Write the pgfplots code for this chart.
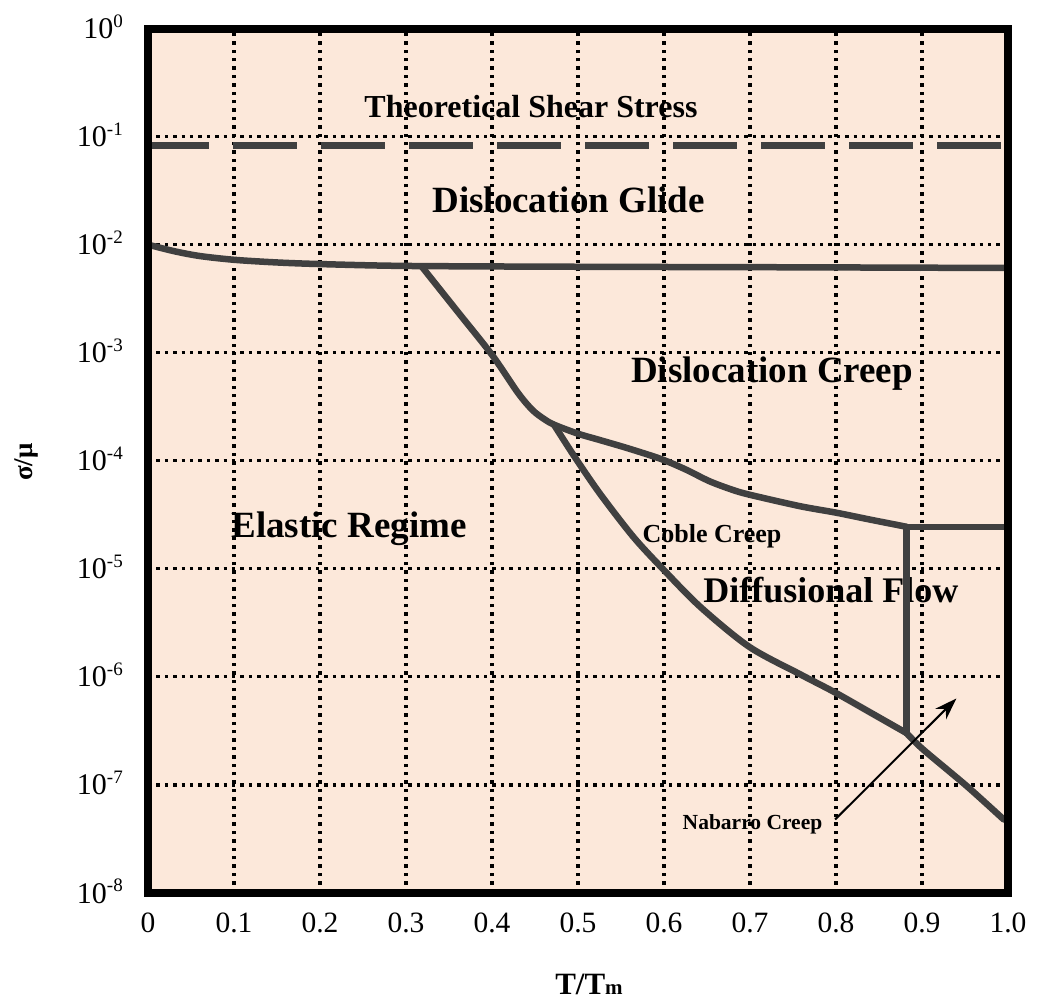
\documentclass[border=0pt]{standalone}
\usepackage{fontspec}
\setmainfont{Liberation Serif}
\usepackage{pgfplots}
\pgfplotsset{compat=1.18}
\usetikzlibrary{arrows.meta}
\definecolor{peach}{RGB}{252,232,218}
\definecolor{curvegray}{RGB}{64,64,64}
\newcommand{\tl}[1]{10\raisebox{11.5pt}{\fontsize{19}{19}\selectfont #1}}
\tikzset{gridl/.style={black, line width=3.2pt, dash pattern=on 3.4pt off 5pt}}
\begin{document}
\begin{tikzpicture}
\begin{axis}[
  scale only axis, width=860pt, height=864.5pt,
  xmin=0, xmax=1, ymode=log, ymin=1e-8, ymax=1,
  xtick={0,0.1,0.2,0.3,0.4,0.5,0.6,0.7,0.8,0.9,1},
  xticklabels={0,0.1,0.2,0.3,0.4,0.5,0.6,0.7,0.8,0.9,1.0},
  ytick={1e-8,1e-7,1e-6,1e-5,1e-4,1e-3,1e-2,1e-1,1},
  yticklabels={{\tl{-8}},{\tl{-7}},{\tl{-6}},{\tl{-5}},{\tl{-4}},{\tl{-3}},{\tl{-2}},{\tl{-1}},{\tl{0}}},
  yminorticks=false,
  major tick length=0pt,
  axis line style={draw=none},
  axis background/.style={fill=peach},
  clip mode=individual,
  xticklabel style={font=\fontsize{29.5}{29.5}\selectfont, anchor=base, inner sep=0pt, yshift=-39pt},
  yticklabel style={font=\fontsize{30}{30}\selectfont, anchor=base east, inner sep=0pt, xshift=-25pt, yshift=-10pt},
]
% texts (below the grid)
\node[font=\bfseries\fontsize{32}{32}\selectfont, anchor=base] at (rel axis cs:0.4453,0.8976) {Theoretical Shear Stress};
\node[font=\bfseries\fontsize{37}{37}\selectfont, anchor=base] at (rel axis cs:0.489,0.7877) {Dislocation Glide};
\node[font=\bfseries\fontsize{37}{37}\selectfont, anchor=base] at (rel axis cs:0.7256,0.590) {Dislocation Creep};
\node[font=\bfseries\fontsize{37}{37}\selectfont, anchor=base] at (rel axis cs:0.2337,0.4118) {Elastic Regime};
\node[font=\bfseries\fontsize{26}{26}\selectfont, anchor=base] at (rel axis cs:0.6558,0.406) {Coble Creep};
\node[font=\bfseries\fontsize{36}{36}\selectfont, anchor=base] at (rel axis cs:0.794,0.3355) {Diffusional Flow};
\node[font=\bfseries\fontsize{21.5}{21.5}\selectfont, anchor=base] at (rel axis cs:0.7029,0.0729) {Nabarro Creep};
% grid
\draw[gridl] (axis cs:0.1,1e-8) -- (axis cs:0.1,1);
\draw[gridl] (axis cs:0.2,1e-8) -- (axis cs:0.2,1);
\draw[gridl] (axis cs:0.3,1e-8) -- (axis cs:0.3,1);
\draw[gridl] (axis cs:0.4,1e-8) -- (axis cs:0.4,1);
\draw[gridl] (axis cs:0.5,1e-8) -- (axis cs:0.5,1);
\draw[gridl] (axis cs:0.6,1e-8) -- (axis cs:0.6,1);
\draw[gridl] (axis cs:0.7,1e-8) -- (axis cs:0.7,1);
\draw[gridl] (axis cs:0.8,1e-8) -- (axis cs:0.8,1);
\draw[gridl] (axis cs:0.9,1e-8) -- (axis cs:0.9,1);
\draw[gridl] (axis cs:0,1e-7) -- (axis cs:1,1e-7);
\draw[gridl] (axis cs:0,1e-6) -- (axis cs:1,1e-6);
\draw[gridl] (axis cs:0,1e-5) -- (axis cs:1,1e-5);
\draw[gridl] (axis cs:0,1e-4) -- (axis cs:1,1e-4);
\draw[gridl] (axis cs:0,1e-3) -- (axis cs:1,1e-3);
\draw[gridl] (axis cs:0,1e-2) -- (axis cs:1,1e-2);
\draw[gridl] (axis cs:0,1e-1) -- (axis cs:1,1e-1);
% theoretical shear stress
\addplot[curvegray, line width=7.5pt, dash pattern=on 64pt off 24pt, dash phase=3pt] coordinates {(0,0.083)(1,0.083)};
% glide / creep boundary
\addplot[curvegray, line width=6.5pt, smooth, line cap=round, line join=round] coordinates {
(0,1.0e-2)(0.03,8.71e-3)(0.06,7.85e-3)(0.1,7.24e-3)(0.15,6.84e-3)(0.2,6.61e-3)(0.3,6.35e-3)(0.5,6.24e-3)(0.75,6.17e-3)(1.0,6.08e-3)};
% elastic / dislocation creep boundary continuing to diffusional boundary
\addplot[curvegray, line width=6.5pt, smooth, line cap=round, line join=round] coordinates {
(0.318,6.31e-3)(0.36,2.40e-3)(0.40,9.55e-4)(0.43,4.27e-4)(0.447,2.95e-4)(0.46,2.45e-4)(0.472,2.16e-4)(0.50,1.78e-4)(0.526,1.55e-4)(0.56,1.29e-4)(0.597,1.035e-4)(0.625,8.32e-5)(0.653,6.46e-5)(0.68,5.37e-5)(0.70,4.84e-5)(0.758,3.80e-5)(0.80,3.31e-5)(0.84,2.85e-5)(0.882,2.45e-5)};
\addplot[curvegray, line width=6.5pt, line cap=round, line join=round] coordinates {(1.0,2.45e-5)(0.882,2.45e-5)(0.882,3.02e-7)};
% Coble creep boundary
\addplot[curvegray, line width=6.5pt, smooth, line cap=round, line join=round] coordinates {
(0.472,2.16e-4)(0.497,1.06e-4)(0.526,4.9e-5)(0.564,1.99e-5)(0.597,1.03e-5)(0.642,4.46e-6)(0.699,1.90e-6)(0.758,1.06e-6)(0.798,7.24e-7)(0.84,4.68e-7)(0.882,3.02e-7)};
% Nabarro continuation
\addplot[curvegray, line width=6.5pt, smooth, line cap=round, line join=round] coordinates {
(0.882,3.02e-7)(0.901,2.14e-7)(0.952,9.77e-8)(0.995,4.79e-8)};
% arrow
\addplot[black, line width=2pt, -{Stealth[length=22pt,width=15pt]}] coordinates {(0.799,4.79e-8)(0.940,6.31e-7)};
% frame
\draw[black, line width=8pt] (rel axis cs:0,0) rectangle (rel axis cs:1,1);
\coordinate (bl) at (rel axis cs:0,0);
\coordinate (tr) at (rel axis cs:1,1);
\end{axis}
\node[font=\bfseries\fontsize{31}{31}\selectfont, anchor=base] at ([shift={(441pt,-101.5pt)}]bl) {T/T{\fontsize{21}{21}\selectfont m}};
\node[font=\bfseries\fontsize{27}{27}\selectfont, anchor=base, rotate=90] at ([shift={(-115pt,431pt)}]bl) {σ/μ};
\pgfresetboundingbox
\path ([shift={(-148pt,-108pt)}]bl) rectangle ([shift={(34pt,28.5pt)}]tr);
\end{tikzpicture}
\end{document}
